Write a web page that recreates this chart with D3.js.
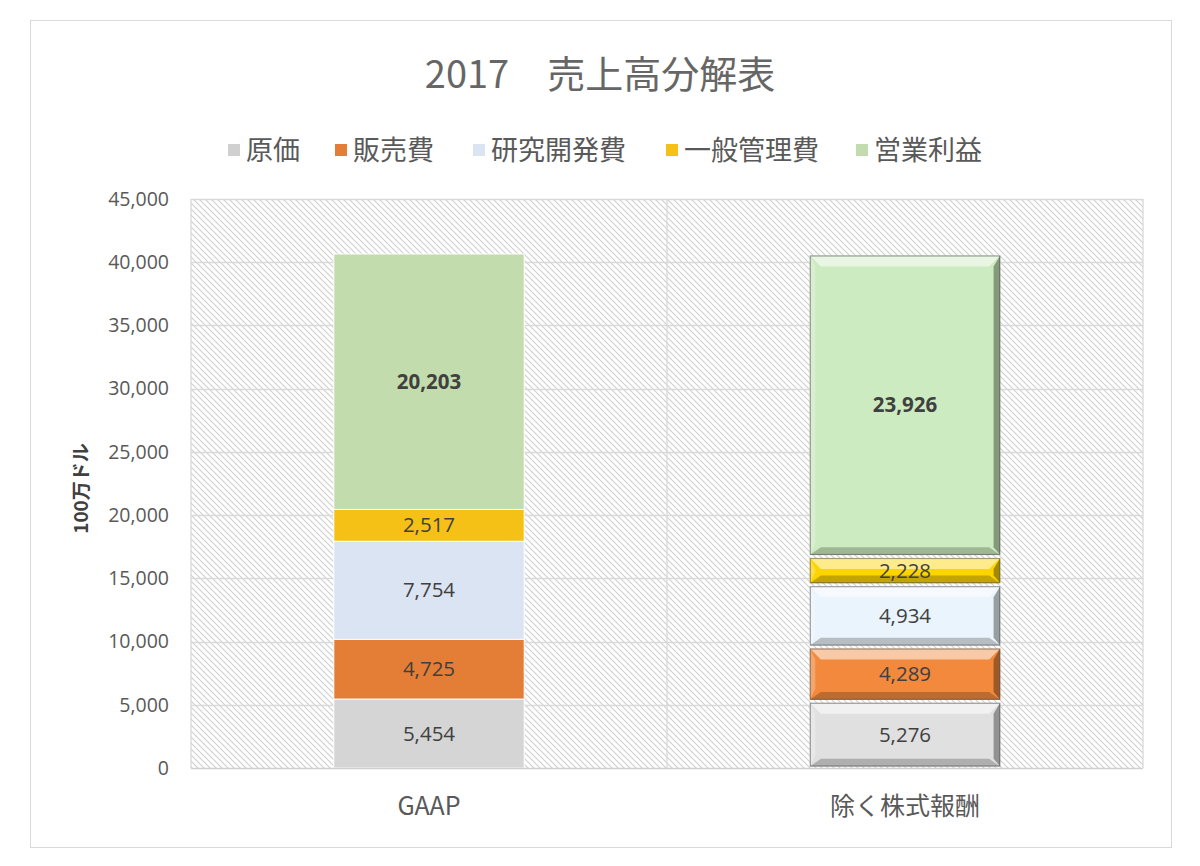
<!DOCTYPE html>
<html><head><meta charset="utf-8">
<script src="https://cdn.jsdelivr.net/npm/d3@7"></script>
<style>body{margin:0;background:#fff;}svg{display:block;font-family:"Noto Sans CJK JP","Noto Sans",sans-serif;}</style>
</head><body>
<script>
const title = "2017\u3000売上高分解表";
const categories = ["GAAP", "除く株式報酬"];
const seriesNames = ["原価", "販売費", "研究開発費", "一般管理費", "営業利益"];
const gaapValues = [5454, 4725, 7754, 2517, 20203];
const exSbcValues = [5276, 4289, 4934, 2228, 23926];
const yTicks = [0, 5000, 10000, 15000, 20000, 25000, 30000, 35000, 40000, 45000];
const yLabel = "100万ドル";
const colorsGaap = ["#d5d5d5", "#e47d35", "#dbe4f2", "#f6c116", "#c2dcae"];
const colorsEx = ["#e0e0e0", "#f2893c", "#eaf4fc", "#fcd400", "#cdebc1"];
const legendColors = ["#d0d0d0", "#e47d35", "#dbe4f2", "#f6c116", "#c2dcae"];

const W = 1200, H = 866;
const svg = d3.select("body").append("svg").attr("width", W).attr("height", H);
const defs = svg.append("defs");
const pat = defs.append("pattern").attr("id","hatch").attr("patternUnits","userSpaceOnUse")
  .attr("width",6).attr("height",6);
pat.append("rect").attr("width",6).attr("height",6).attr("fill","#fff");
pat.append("path").attr("d","M0,0L6,6M-1,5L1,7M5,-1L7,1").attr("stroke","#cfcfcf").attr("stroke-width",1.1);

svg.append("rect").attr("x",30.5).attr("y",20.5).attr("width",1141).attr("height",827)
  .attr("fill","#fff").attr("stroke","#d9d9d9");

const plot = {left:191, right:1143, top:199, bottom:768};
const x = d3.scaleBand().domain(categories).range([plot.left, plot.right]).paddingInner(0.6).paddingOuter(0.3);
const y = d3.scaleLinear().domain([0,45000]).range([plot.bottom, plot.top]);

svg.append("rect").attr("x",plot.left).attr("y",plot.top).attr("width",plot.right-plot.left)
  .attr("height",plot.bottom-plot.top).attr("fill","url(#hatch)");

// gridlines
svg.append("g").selectAll("line").data(yTicks.slice(1)).join("line")
  .attr("x1",plot.left).attr("x2",plot.right)
  .attr("y1",d=>Math.round(y(d))+0.5).attr("y2",d=>Math.round(y(d))+0.5)
  .attr("stroke","#d9d9d9").attr("stroke-width",1.3);
svg.append("g").selectAll("line").data([plot.left, (plot.left+plot.right)/2, plot.right]).join("line")
  .attr("x1",d=>d).attr("x2",d=>d).attr("y1",plot.top).attr("y2",plot.bottom)
  .attr("stroke","#d9d9d9").attr("stroke-width",1.3);

// y axis labels
const yAxis = d3.axisLeft(y).tickValues(yTicks).tickSize(0).tickPadding(22).tickFormat(d3.format(","));
const ya = svg.append("g").attr("transform",`translate(${plot.left},0)`).call(yAxis);
ya.select(".domain").remove();
ya.selectAll("text").attr("fill","#595959").attr("font-size",19.5)
  .attr("font-family","'Open Sans','Noto Sans',sans-serif");

svg.append("text").attr("transform",`translate(88,${(plot.top+plot.bottom)/2+5}) rotate(-90)`)
  .attr("text-anchor","middle").attr("font-size",19).attr("font-weight","bold").attr("fill","#404040")
  .text(yLabel);

// bars
const data = [gaapValues, exSbcValues];
const palettes = [colorsGaap, colorsEx];
data.forEach((vals, ci) => {
  const cat = categories[ci];
  const x0 = x(cat), bw = x.bandwidth();
  let cum = 0;
  const g = svg.append("g");
  vals.forEach((v, si) => {
    const y0 = y(cum), y1 = y(cum+v);
    cum += v;
    const top = y1, h = y0 - y1;
    if (ci === 0) {
      g.append("rect").attr("x",x0).attr("y",top).attr("width",bw).attr("height",h)
        .attr("fill",palettes[ci][si]).attr("stroke","#fff").attr("stroke-width",1);
    } else {
      const t = top+1.5, bh = h-3;
      g.append("rect").attr("x",x0).attr("y",t).attr("width",bw).attr("height",bh)
        .attr("fill",palettes[ci][si]);
      const b = Math.min(11, bh/2);
      const L = x0, R = x0+bw, T = t, B = t+bh;
      g.append("polygon").attr("points",`${L},${T} ${R},${T} ${R-b},${T+b} ${L+b},${T+b}`)
        .attr("fill","#fff").attr("opacity",0.55);
      g.append("polygon").attr("points",`${L},${T} ${L+b*0.5},${T+b} ${L+b*0.5},${B-b} ${L},${B}`)
        .attr("fill","#fff").attr("opacity",0.25);
      g.append("polygon").attr("points",`${R},${T} ${R},${B} ${R-b*0.6},${B-b*0.7} ${R-b*0.6},${T+b}`)
        .attr("fill","#000").attr("opacity",0.35);
      g.append("polygon").attr("points",`${L},${B} ${R},${B} ${R-b},${B-b*0.7} ${L+b},${B-b*0.7}`)
        .attr("fill","#000").attr("opacity",0.22);
      g.append("rect").attr("x",L+0.5).attr("y",T+0.5).attr("width",bw-1).attr("height",bh-1)
        .attr("fill","none").attr("stroke","#555").attr("stroke-opacity",0.55).attr("stroke-width",1.2);
    }
    g.append("text").attr("x",x0+bw/2).attr("y",(y0+y1)/2+7).attr("text-anchor","middle")
      .attr("font-size",20.5).attr("fill","#404040")
      .attr("font-family","'Open Sans','Noto Sans',sans-serif")
      .attr("font-weight", si===4 ? "bold" : "normal")
      .text(d3.format(",")(v));
  });
});

// bottom axis line
svg.append("line").attr("x1",plot.left).attr("x2",plot.right).attr("y1",plot.bottom+0.5).attr("y2",plot.bottom+0.5)
  .attr("stroke","#d0d0d0").attr("stroke-width",1.3);

// x labels
svg.append("g").selectAll("text").data(categories).join("text")
  .attr("x",d=>x(d)+x.bandwidth()/2).attr("y",815).attr("text-anchor","middle")
  .attr("font-size",25).attr("fill","#595959").text(d=>d);

// title
svg.append("text").attr("x",600).attr("y",88).attr("text-anchor","middle")
  .attr("font-size",38).attr("fill","#666").text(title);

// legend
const legendX = [228, 335, 473, 666, 856];
const lg = svg.append("g").selectAll("g").data(seriesNames).join("g")
  .attr("transform",(d,i)=>`translate(${legendX[i]},150)`);
lg.append("rect").attr("x",0).attr("y",-6).attr("width",12).attr("height",12)
  .attr("fill",(d,i)=>legendColors[i]);
lg.append("text").attr("x",18).attr("y",10).attr("font-size",27).attr("fill","#595959").text(d=>d);
</script>
</body></html>
